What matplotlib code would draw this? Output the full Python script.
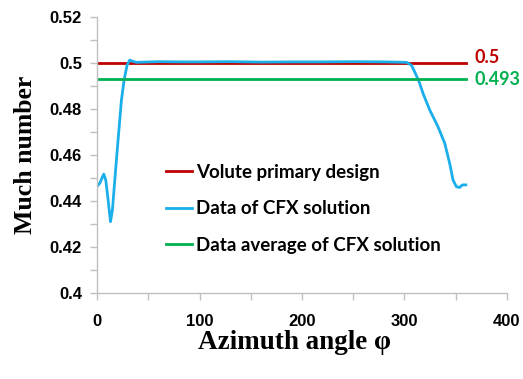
import numpy as np
import matplotlib.pyplot as plt
from matplotlib.ticker import MultipleLocator

# CFX solution, Mach number vs azimuth angle
phi = [0, 2.4, 6.3, 8.3, 10.6, 12.9, 14.8, 17.1, 20.3, 23.6, 26.2, 29.1, 31.7,
       34.4, 38.3, 45, 60, 80, 100, 130, 160, 190, 220, 250, 280, 302, 306.8,
       310, 314.3, 318.2, 324.7, 332.8, 339.4, 344.2, 347.5, 350.8, 354, 356.6, 360]
mach = [0.4465, 0.4477, 0.4517, 0.4491, 0.4404, 0.4310, 0.4361, 0.4491, 0.4665,
        0.4839, 0.4926, 0.4991, 0.5013, 0.5008, 0.5003, 0.5004, 0.5006, 0.5005,
        0.5005, 0.5006, 0.5004, 0.5005, 0.5005, 0.5006, 0.5005, 0.5003, 0.4991,
        0.4962, 0.4919, 0.4868, 0.4796, 0.4723, 0.4651, 0.4564, 0.4491, 0.4462,
        0.4459, 0.4470, 0.4470]

design_x = [0, 360]
design_y = [0.5, 0.5]
avg_x = [0, 360]
avg_y = [0.493, 0.493]

red = '#C00000'
blue = '#1AAFEA'
green = '#00B050'

fig = plt.figure(figsize=(5.23, 3.79), dpi=100)
ax = fig.add_axes([0.186, 0.227, 0.783, 0.728])

ax.plot(design_x, design_y, color=red, lw=2, label='Volute primary design')
ax.plot(phi, mach, color=blue, lw=2, label='Data of CFX solution')
ax.plot(avg_x, avg_y, color=green, lw=2, label='Data average of CFX solution')

ax.text(368, 0.5022, '0.5', color=red, fontsize=13, fontweight='bold',
        family='Lato', ha='left', va='center')
ax.text(368, 0.4928, '0.493', color=green, fontsize=13, fontweight='bold',
        family='Lato', ha='left', va='center')

ax.set_xlim(0, 400)
ax.set_ylim(0.4, 0.52)
ax.xaxis.set_major_locator(MultipleLocator(100))
ax.xaxis.set_minor_locator(MultipleLocator(50))
ax.yaxis.set_minor_locator(MultipleLocator(0.01))
ax.set_yticks([0.4, 0.42, 0.44, 0.46, 0.48, 0.5, 0.52])
ax.set_yticklabels(['0.4', '0.42', '0.44', '0.46', '0.48', '0.5', '0.52'])

for s in ['top', 'right']:
    ax.spines[s].set_visible(False)
for s in ['left', 'bottom']:
    ax.spines[s].set_color('#BFBFBF')
    ax.spines[s].set_linewidth(1)
ax.tick_params(which='both', direction='out', color='#BFBFBF', length=5, width=1)
ax.tick_params(axis='x', pad=10)
ax.tick_params(axis='y', pad=6)
for lab in ax.get_xticklabels() + ax.get_yticklabels():
    lab.set_family('Liberation Sans')
    lab.set_fontweight('bold')
    lab.set_fontsize(12)

ax.set_xlabel('Azimuth angle φ', family='Liberation Serif', fontweight='bold',
              fontsize=19.5, labelpad=1)
ax.xaxis.label.set_x(0.482)
ax.set_ylabel('Much number', family='Liberation Serif', fontweight='bold',
              fontsize=18.5, labelpad=9)

leg = ax.legend(loc='upper left', bbox_to_anchor=(0.127, 0.53), frameon=False,
                handlelength=1.4, handletextpad=0.2, labelspacing=1.05,
                prop={'family': 'Lato', 'weight': 'bold', 'size': 13.5})

fig.savefig('out.png', dpi=100)
